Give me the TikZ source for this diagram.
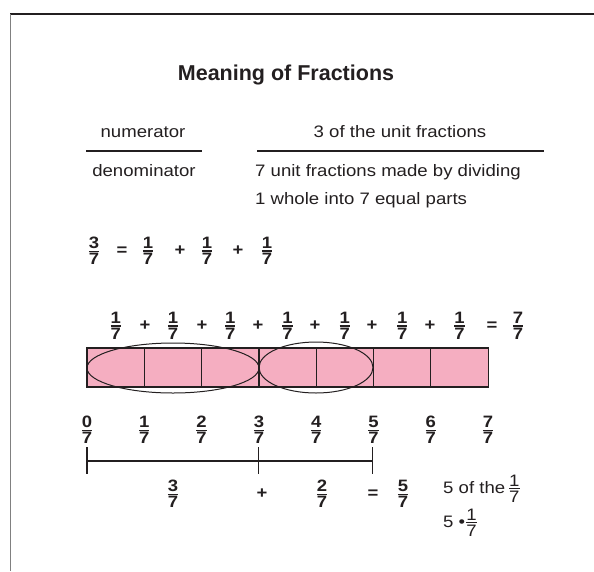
\documentclass[tikz,border=0pt]{standalone}
\usepackage{amsmath}
\usepackage{fontspec}
\setmainfont{Liberation Sans}[FakeStretch=1.12]
\newfontfamily\titlefont{Liberation Sans}
\definecolor{barpink}{RGB}{245,174,193}
\definecolor{ink}{RGB}{35,31,32}
\newcommand\fr[2]{$\genfrac{}{}{1.4pt}{1}{\mbox{#1}}{\mbox{#2}}$}
\begin{document}
\begin{tikzpicture}[x=1pt,y=-1pt,
  txt/.style={inner sep=0pt, font=\fontsize{16.6}{19}\selectfont, text=ink},
  frac/.style={inner sep=0pt, font=\fontsize{16.5}{19}\selectfont\bfseries, text=ink},
  op/.style={inner sep=0pt, font=\fontsize{16.5}{19}\selectfont\bfseries, text=ink},
  rule/.style={draw=ink, line width=1.4pt},
  cell/.style={draw=ink, fill=barpink, line width=1.2pt, minimum width=57.3pt, minimum height=39pt, inner sep=0pt},
  oval/.style={draw=ink, line width=1pt}
]
\useasboundingbox (0,0) rectangle (594,571);
% frame
\coordinate (ftl) at (10,14);
\coordinate (ftr) at (594,14);
\coordinate (fbl) at (10,571);
\draw[ink, line width=1.3pt] (ftl) -- (ftr);
\draw[black!50, line width=1pt] (ftl) -- (fbl);
% title
\node[txt, font=\titlefont\fontsize{21.5}{24}\selectfont\bfseries, anchor=base] (title) at (286,80) {Meaning of Fractions};
% numerator / denominator
\node[txt, anchor=base] (num) at (143,137.5) {numerator};
\node[txt, anchor=base] (den) at (144,176) {denominator};
\node[txt, anchor=base] (three) at (400,137.5) {3 of the unit fractions};
\node[txt, anchor=base west] (seven) at (255,176) {7 unit fractions made by dividing};
\node[txt, anchor=base west] (whole) at (255,204) {1 whole into 7 equal parts};
\coordinate (l1a) at (86,151); \coordinate (l1b) at (202,151);
\coordinate (l2a) at (257,151); \coordinate (l2b) at (544,151);
\draw[rule] (l1a) -- (l1b);
\draw[rule] (l2a) -- (l2b);
% equation
\node[frac] (e0) at (94,251) {\fr{3}{7}};
\node[op] (eq0) at (122,251) {=};
\node[frac] (e1) at (148,251) {\fr{1}{7}};
\node[op] (p1) at (180,251) {+};
\node[frac] (e2) at (207,251) {\fr{1}{7}};
\node[op] (p2) at (238,251) {+};
\node[frac] (e3) at (267,251) {\fr{1}{7}};
% top row of unit fractions
\foreach \i in {0,...,6} \node[frac] (u\i) at (115.65+57.3*\i,326) {\fr{1}{7}};
\foreach \x [count=\i] in {145,202,258,315,372,430} \node[op] (up\i) at (\x,326) {+};
\node[op] (ueq) at (492,326) {=};
\node[frac] (utot) at (518,326) {\fr{7}{7}};
% bar
\foreach \k in {0,...,6} \node[cell] (c\k) at (115.65+57.3*\k,367.5) {};
\draw[oval] (173,368) ellipse [x radius=86, y radius=25];
\draw[oval] (316,367.5) ellipse [x radius=57, y radius=25.5];
% labels below bar
\foreach \k in {0,...,7} \node[frac] (b\k) at (87+57.3*\k,430) {\fr{\k}{7}};
% bracket
\coordinate (t0) at (87,461); \coordinate (t1) at (258.5,461); \coordinate (t2) at (372.5,461);
\coordinate (t0a) at (87,447); \coordinate (t0b) at (87,474);
\coordinate (t1a) at (258.5,447); \coordinate (t1b) at (258.5,474);
\coordinate (t2a) at (372.5,447); \coordinate (t2b) at (372.5,474);
\draw[ink, line width=1.2pt] (t0) -- (t2);
\draw[ink, line width=1.2pt] (t0a) -- (t0b);
\draw[ink, line width=1.2pt] (t1a) -- (t1b);
\draw[ink, line width=1.2pt] (t2a) -- (t2b);
% sum
\node[frac] (s1) at (173,494) {\fr{3}{7}};
\node[op] (sp) at (262,494) {+};
\node[frac] (s2) at (322,494) {\fr{2}{7}};
\node[op] (seq) at (373,494) {=};
\node[frac] (s3) at (403,494) {\fr{5}{7}};
\node[txt, anchor=base west] (of) at (443,493) {5 of the\,\fr{1}{7}};
\node[txt, anchor=base west] (dot) at (443,527) {5 •\fr{1}{7}};
\end{tikzpicture}
\end{document}
